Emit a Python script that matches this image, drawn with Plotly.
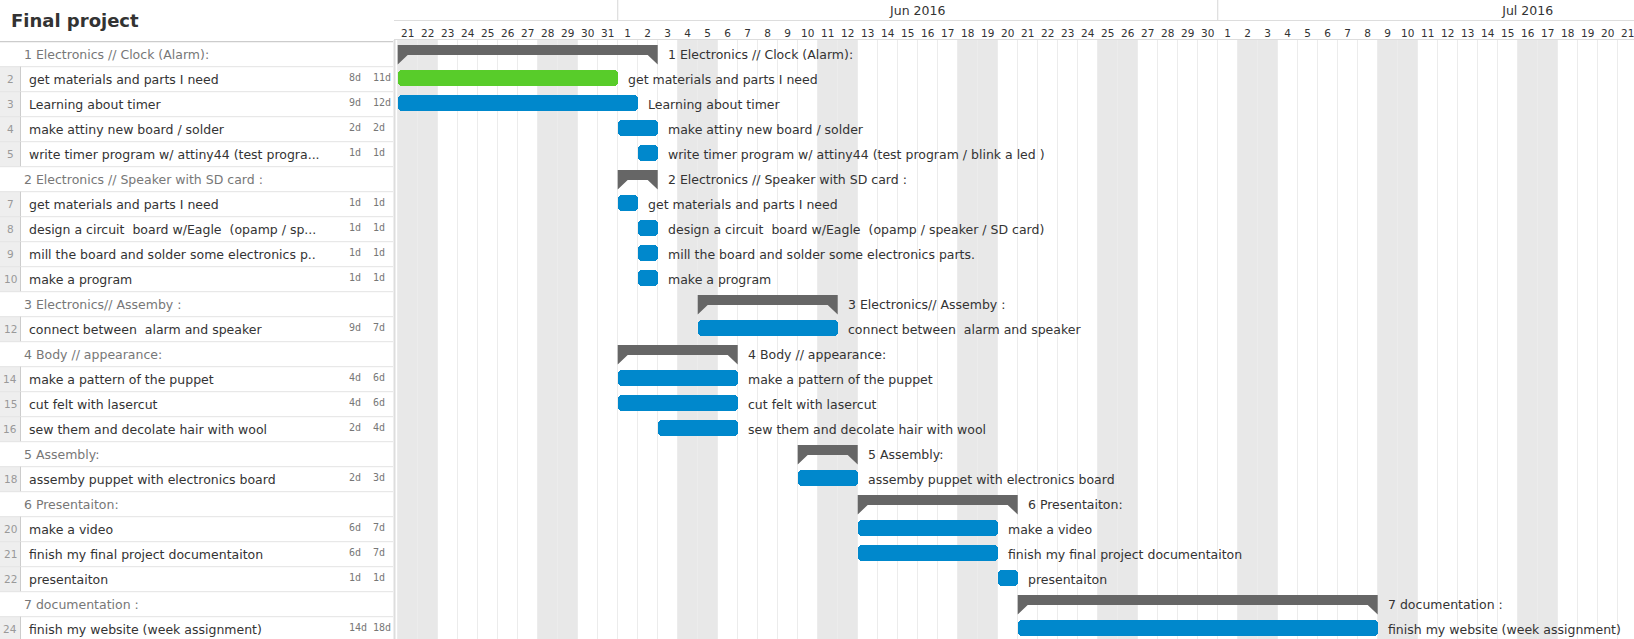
import plotly.graph_objects as go
from datetime import datetime, timedelta

# ---------------- data ----------------
chart_title = "Final project"

row_kind = ["section", "task", "task", "task", "task",
            "section", "task", "task", "task", "task",
            "section", "task",
            "section", "task", "task", "task",
            "section", "task",
            "section", "task", "task", "task",
            "section", "task"]

panel_names = [
    "1 Electronics // Clock (Alarm):",
    "get materials and parts I need",
    "Learning about timer",
    "make attiny new board / solder",
    "write timer program w/ attiny44 (test progra...",
    "2 Electronics // Speaker with SD card :",
    "get materials and parts I need",
    "design a circuit  board w/Eagle  (opamp / sp...",
    "mill the board and solder some electronics p..",
    "make a program",
    "3 Electronics// Assemby :",
    "connect between  alarm and speaker",
    "4 Body // appearance:",
    "make a pattern of the puppet",
    "cut felt with lasercut",
    "sew them and decolate hair with wool",
    "5 Assembly:",
    "assemby puppet with electronics board",
    "6 Presentaiton:",
    "make a video",
    "finish my final project documentaiton",
    "presentaiton",
    "7 documentation :",
    "finish my website (week assignment)",
]

bar_labels = [
    "1 Electronics // Clock (Alarm):",
    "get materials and parts I need",
    "Learning about timer",
    "make attiny new board / solder",
    "write timer program w/ attiny44 (test program / blink a led )",
    "2 Electronics // Speaker with SD card :",
    "get materials and parts I need",
    "design a circuit  board w/Eagle  (opamp / speaker / SD card)",
    "mill the board and solder some electronics parts.",
    "make a program",
    "3 Electronics// Assemby :",
    "connect between  alarm and speaker",
    "4 Body // appearance:",
    "make a pattern of the puppet",
    "cut felt with lasercut",
    "sew them and decolate hair with wool",
    "5 Assembly:",
    "assemby puppet with electronics board",
    "6 Presentaiton:",
    "make a video",
    "finish my final project documentaiton",
    "presentaiton",
    "7 documentation :",
    "finish my website (week assignment)",
]

start_dates = ["2016-05-21", "2016-05-21", "2016-05-21", "2016-06-01", "2016-06-02",
               "2016-06-01", "2016-06-01", "2016-06-02", "2016-06-02", "2016-06-02",
               "2016-06-05", "2016-06-05",
               "2016-06-01", "2016-06-01", "2016-06-01", "2016-06-03",
               "2016-06-10", "2016-06-10",
               "2016-06-13", "2016-06-13", "2016-06-13", "2016-06-20",
               "2016-06-21", "2016-06-21"]

end_dates = ["2016-06-02", "2016-05-31", "2016-06-01", "2016-06-02", "2016-06-02",
             "2016-06-02", "2016-06-01", "2016-06-02", "2016-06-02", "2016-06-02",
             "2016-06-11", "2016-06-11",
             "2016-06-06", "2016-06-06", "2016-06-06", "2016-06-06",
             "2016-06-12", "2016-06-12",
             "2016-06-20", "2016-06-19", "2016-06-19", "2016-06-20",
             "2016-07-08", "2016-07-08"]

work_days = ["", "8d", "9d", "2d", "1d",
             "", "1d", "1d", "1d", "1d",
             "", "9d",
             "", "4d", "4d", "2d",
             "", "2d",
             "", "6d", "6d", "1d",
             "", "14d"]

total_days = ["", "11d", "12d", "2d", "1d",
              "", "1d", "1d", "1d", "1d",
              "", "7d",
              "", "6d", "6d", "4d",
              "", "3d",
              "", "7d", "7d", "1d",
              "", "18d"]

task_status = ["", "done", "open", "open", "open",
               "", "open", "open", "open", "open",
               "", "open",
               "", "open", "open", "open",
               "", "open",
               "", "open", "open", "open",
               "", "open"]

view_first_day = "2016-05-21"

# ---------------- geometry / style ----------------
W, H = 1634, 639
HEADER = 40
ROW_H = 25
PANEL_W = 394
DAY_PX = 20
FIRST_LINE_PX = 397.7
FONT = "DejaVu Sans"
TXT = "#333333"
GREEN = "#58cc2a"
BLUE = "#0088cc"
GROUP = "#666666"
WEEKEND = "#e8e8e8"
GRID = "#ececec"


def px_x(xw):
    return xw / W


def px_y(yw):
    return 1 - yw / H


def keep_spaces(s):
    return s.replace("  ", " \u00a0")


n = len(row_kind)
rows = list(range(1, n + 1))
DAY = timedelta(days=1)

first = datetime.strptime(view_first_day, "%Y-%m-%d")
x0 = first - timedelta(days=(FIRST_LINE_PX - PANEL_W) / DAY_PX)
x1 = x0 + timedelta(days=(W - PANEL_W) / DAY_PX)

y_top = 0.5 - 1.7 / ROW_H
y_bot = y_top + (H - HEADER) / ROW_H
ydom_top = px_y(HEADER)

# day tick labels (centred in each day column)
day_tickvals, day_ticktext = [], []
d = first
while d < x1:
    day_tickvals.append(d + timedelta(hours=12))
    day_ticktext.append(str(d.day))
    d += DAY

# month tick labels (centred on each whole month) and month boundaries
month_tickvals, month_ticktext, month_bounds = [], [], []
m = datetime(first.year, first.month, 1)
while m < x1:
    nm = datetime(m.year + (m.month // 12), m.month % 12 + 1, 1)
    month_tickvals.append(m + (nm - m) / 2)
    month_ticktext.append(m.strftime("%b %Y"))
    if x0 < nm < x1:
        month_bounds.append(nm)
    m = nm

fig = go.Figure()

# task bars
for status, color in (("done", GREEN), ("open", BLUE)):
    ys, bases, lens = [], [], []
    for i in range(n):
        if row_kind[i] == "task" and task_status[i] == status:
            s = datetime.strptime(start_dates[i], "%Y-%m-%d")
            e = datetime.strptime(end_dates[i], "%Y-%m-%d") + DAY
            ys.append(rows[i])
            bases.append(s.strftime("%Y-%m-%d"))
            lens.append((e - s).total_seconds() * 1000)
    fig.add_trace(go.Bar(
        orientation="h", y=ys, x=lens, base=bases,
        width=16 / ROW_H, offset=-9.2 / ROW_H,
        marker=dict(color=color, line=dict(width=0), cornerradius=4),
        hoverinfo="skip", showlegend=False, xaxis="x", yaxis="y"))

# group brackets
gx, gy = [], []
for i in range(n):
    if row_kind[i] != "section":
        continue
    r = rows[i]
    s = datetime.strptime(start_dates[i], "%Y-%m-%d")
    e = datetime.strptime(end_dates[i], "%Y-%m-%d") + DAY
    half = timedelta(days=0.5)
    yt, ym, yb = r - 9.2 / ROW_H, r + 0.8 / ROW_H, r + 10.3 / ROW_H
    gx += [s, e, e, e - half, s + half, s, s, None]
    gy += [yt, yt, yb, ym, ym, yb, yt, None]
fig.add_trace(go.Scatter(x=gx, y=gy, mode="lines", fill="toself",
                         fillcolor=GROUP, line=dict(width=0, color=GROUP),
                         hoverinfo="skip", showlegend=False,
                         xaxis="x", yaxis="y"))

# invisible anchors for panel axis, month axis and day-label axis
fig.add_trace(go.Scatter(x=[100], y=[1], mode="markers", marker=dict(opacity=0),
                         hoverinfo="skip", showlegend=False, xaxis="x2", yaxis="y"))
fig.add_trace(go.Scatter(x=[first], y=[1], mode="markers", marker=dict(opacity=0),
                         hoverinfo="skip", showlegend=False, xaxis="x3", yaxis="y"))
fig.add_trace(go.Scatter(x=[first], y=[1], mode="markers", marker=dict(opacity=0),
                         hoverinfo="skip", showlegend=False, xaxis="x4", yaxis="y"))

shapes = []
annotations = []

# weekend shading
d = first - DAY
while d < x1:
    if d.weekday() >= 5:
        shapes.append(dict(type="rect", xref="x", yref="paper",
                           x0=d, x1=d + DAY, y0=0, y1=ydom_top,
                           fillcolor=WEEKEND, line=dict(width=0), layer="below"))
    d += DAY

# month separators in header
for nm in month_bounds:
    shapes.append(dict(type="line", xref="x", yref="paper",
                       x0=nm, x1=nm, y0=px_y(20), y1=1,
                       line=dict(color="#dddddd", width=1.2)))

# bar labels
for i in range(n):
    e = datetime.strptime(end_dates[i], "%Y-%m-%d") + DAY
    annotations.append(dict(xref="x", yref="y", x=e, y=rows[i],
                            text=keep_spaces(bar_labels[i]), showarrow=False,
                            xanchor="left", yanchor="middle", xshift=9, borderpad=0,
                            font=dict(family=FONT, size=12.5, color=TXT)))

# left panel (x2 axis is in window pixels)
shapes.append(dict(type="rect", xref="x2", yref="paper", x0=0, x1=PANEL_W,
                   y0=0, y1=ydom_top, fillcolor="white", line=dict(width=0), layer="below"))
for i in range(n):
    r = rows[i]
    if row_kind[i] == "task":
        shapes.append(dict(type="rect", xref="x2", yref="y", x0=0, x1=20,
                           y0=r - 0.5, y1=r + 0.5, fillcolor="#eeeeee",
                           line=dict(width=0), layer="below"))
        shapes.append(dict(type="line", xref="x2", yref="y", x0=20.5, x1=20.5,
                           y0=r - 0.5, y1=r + 0.5, line=dict(color="#cccccc", width=1)))
        annotations.append(dict(xref="x2", yref="y", x=10, y=r, text=str(r),
                                showarrow=False, xanchor="center", yanchor="middle",
                                font=dict(family=FONT, size=10.5, color="#999999")))
        annotations.append(dict(xref="x2", yref="y", x=27.5, y=r,
                                text=keep_spaces(panel_names[i]), showarrow=False,
                                xanchor="left", yanchor="middle", borderpad=0,
                                font=dict(family=FONT, size=12.5, color=TXT)))
        annotations.append(dict(xref="x2", yref="y", x=348, y=r - 0.08,
                                text=work_days[i], showarrow=False,
                                xanchor="left", yanchor="middle", borderpad=0,
                                font=dict(family="DejaVu Sans Mono", size=10, color="#777777")))
        annotations.append(dict(xref="x2", yref="y", x=371.5, y=r - 0.08,
                                text=total_days[i], showarrow=False,
                                xanchor="left", yanchor="middle", borderpad=0,
                                font=dict(family="DejaVu Sans Mono", size=10, color="#777777")))
    else:
        annotations.append(dict(xref="x2", yref="y", x=22.5, y=r,
                                text=keep_spaces(panel_names[i]), showarrow=False,
                                xanchor="left", yanchor="middle", borderpad=0,
                                font=dict(family=FONT, size=12.5, color="#777777")))
    shapes.append(dict(type="line", xref="x2", yref="y", x0=0, x1=PANEL_W - 1,
                       y0=r + 0.5, y1=r + 0.5, line=dict(color="#e3e3e3", width=1)))
shapes.append(dict(type="line", xref="x2", yref="y", x0=0, x1=PANEL_W - 1,
                   y0=0.5, y1=0.5, line=dict(color="#cccccc", width=1.2)))
shapes.append(dict(type="line", xref="paper", yref="paper",
                   x0=px_x(PANEL_W + 0.5), x1=px_x(PANEL_W + 0.5), y0=0, y1=ydom_top,
                   line=dict(color="#dddddd", width=2)))

annotations.append(dict(xref="paper", yref="paper", x=px_x(10), y=px_y(20),
                        text="<b>" + chart_title + "</b>", showarrow=False,
                        xanchor="left", yanchor="middle", borderpad=0,
                        font=dict(family=FONT, size=18, color=TXT)))

fig.update_layout(
    width=W, height=H,
    margin=dict(l=0, r=0, t=0, b=0, autoexpand=False),
    paper_bgcolor="white", plot_bgcolor="white",
    showlegend=False, bargap=0,
    shapes=shapes, annotations=annotations,
    xaxis=dict(domain=[px_x(PANEL_W), 1], anchor="y", side="top", type="date",
               range=[x0, x1], tick0=view_first_day, dtick=86400000,
               showticklabels=False, ticks="",
               showgrid=True, gridcolor=GRID, gridwidth=1,
               showline=True, linecolor="#dddddd", linewidth=1,
               zeroline=False, fixedrange=True, automargin=False),
    xaxis4=dict(overlaying="x", matches="x", anchor="y", side="top", type="date",
                range=[x0, x1], tickmode="array", tickvals=day_tickvals,
                ticktext=day_ticktext, ticks="", showgrid=False, showline=False,
                ticklabeloverflow="allow",
                zeroline=False, fixedrange=True, automargin=False,
                tickfont=dict(family=FONT, size=10.5, color=TXT)),
    xaxis3=dict(overlaying="x", matches="x", anchor="free", position=px_y(20),
                side="top", type="date", range=[x0, x1],
                tickmode="array", tickvals=month_tickvals, ticktext=month_ticktext,
                ticks="", showgrid=False, ticklabeloverflow="allow",
                showline=True, linecolor="#dddddd", linewidth=1, zeroline=False,
                automargin=False,
                tickfont=dict(family=FONT, size=12.5, color=TXT)),
    xaxis2=dict(domain=[0, px_x(PANEL_W)], anchor="y", range=[0, PANEL_W],
                visible=False, fixedrange=True, automargin=False),
    yaxis=dict(domain=[0, ydom_top], range=[y_bot, y_top], visible=False,
               showgrid=False, zeroline=False, fixedrange=True, automargin=False),
)

fig.write_html("out.html", config={"displayModeBar": False},
               post_script="document.body.style.margin='0px';document.body.style.overflow='hidden';")
